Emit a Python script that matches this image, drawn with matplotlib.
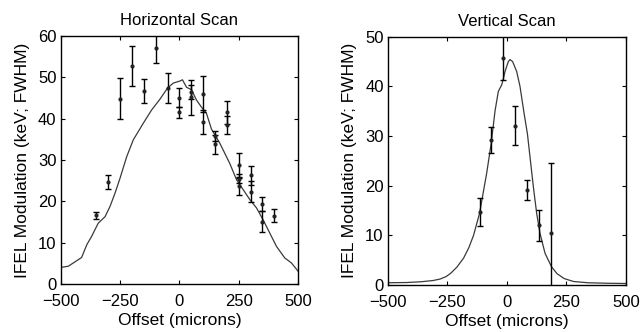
import numpy as np
import matplotlib
matplotlib.use("Agg")
from matplotlib import pyplot as plt

plt.rcParams['font.family'] = ['Liberation Sans', 'DejaVu Sans']

# horizontal scan: measured points
h_x = [-350, -300, -250, -200, -150, -100, -50, 0, 0, 50, 50, 100, 100,
       150, 150, 200, 200, 250, 250, 250, 300, 300, 350, 350, 400]
h_y = [16.6, 24.6, 44.8, 52.8, 46.7, 57.2, 47.4, 45.1, 41.5, 46.5, 45.2, 45.9, 39.2,
       35.8, 33.8, 41.5, 38.5, 28.8, 25.5, 23.6, 26.3, 22.3, 19.3, 15.1, 16.5]
h_err = [0.9, 1.7, 5.0, 4.8, 2.9, 3.8, 3.7, 2.3, 1.4, 1.7, 4.2, 4.3, 2.9,
         1.3, 2.3, 2.8, 2.2, 2.9, 1.0, 2.0, 2.3, 2.5, 1.7, 2.5, 1.6]

# horizontal scan: model curve
hc_x = [-500, -468, -412, -390, -370, -342, -313, -292, -271, -250, -222, -194,
        -152, -117, -82, -50, -26, 2, 13, 30, 51, 72, 93, 114, 135, 170, 212,
        241, 269, 297, 325, 353, 381, 409, 444, 472, 500]
hc_y = [4.0, 4.3, 6.4, 9.5, 11.5, 14.7, 16.3, 18.8, 22.0, 25.6, 30.8, 34.9,
        38.9, 42.1, 44.7, 47.4, 48.6, 49.1, 49.4, 47.6, 47.0, 44.5, 42.8, 41.3,
        37.5, 34.1, 29.2, 25.2, 22.8, 20.4, 18.4, 15.5, 12.3, 9.1, 6.3, 5.1, 3.1]

# vertical scan: measured points
v_x = [-115, -66, -16, 34, 86, 135, 187]
v_y = [14.7, 29.2, 45.8, 32.1, 19.1, 12.0, 10.5]
v_err = [2.9, 2.7, 4.6, 3.9, 2.0, 3.2, 14.0]

# vertical scan: model curve
vc_x = [-500, -420, -360, -310, -280, -255, -235, -210, -182, -160, -140, -115,
        -85, -66, -50, -36, -22, -16, -8, 6, 13, 24, 41, 55, 72, 86, 97, 111,
        125, 139, 160, 187, 210, 240, 280, 340, 420, 500]
vc_y = [0.45, 0.5, 0.65, 0.9, 1.2, 1.7, 2.4, 3.6, 5.4, 7.5, 10.0, 14.4,
        22.5, 28.5, 35.0, 39.0, 40.3, 41.3, 43.0, 45.0, 45.4, 45.0, 43.0, 40.0,
        34.6, 30.5, 25.8, 19.8, 14.4, 10.4, 6.4, 3.7, 2.3, 1.3, 0.7, 0.45, 0.35, 0.3]

fig = plt.figure(figsize=(6.41, 3.32), dpi=100)
ax1 = fig.add_axes([0.0947, 0.1446, 0.3703, 0.747])
ax2 = fig.add_axes([0.605, 0.1416, 0.3716, 0.7477])

for ax, cx, cy, px, py, pe, ymax, title in [
        (ax1, hc_x, hc_y, h_x, h_y, h_err, 60, "Horizontal Scan"),
        (ax2, vc_x, vc_y, v_x, v_y, v_err, 50, "Vertical Scan")]:
    ax.plot(cx, cy, color='#3a3a3a', lw=0.9)
    ax.errorbar(px, py, yerr=pe, fmt='.', color='#222222', ms=4,
                ecolor='black', elinewidth=1.0, capsize=2.2, capthick=1.0)
    ax.set_xlim(-500, 500)
    ax.set_ylim(0, ymax)
    ax.set_xticks([-500, -250, 0, 250, 500])
    ax.set_yticks(np.arange(0, ymax + 1, 10))
    ax.tick_params(direction='in', top=True, right=True, labelsize=12,
                   length=3)
    ax.tick_params(axis='x', pad=7)
    ax.tick_params(axis='y', pad=3)
    ax.set_xlabel("Offset (microns)", fontsize=12.5, labelpad=3)
    ax.set_ylabel("IFEL Modulation (keV; FWHM)", fontsize=12.5, labelpad=6)
    ax.set_title(title, fontsize=12, pad=8)
    for s in ax.spines.values():
        s.set_linewidth(1.0)

fig.savefig("out.png", dpi=100)
